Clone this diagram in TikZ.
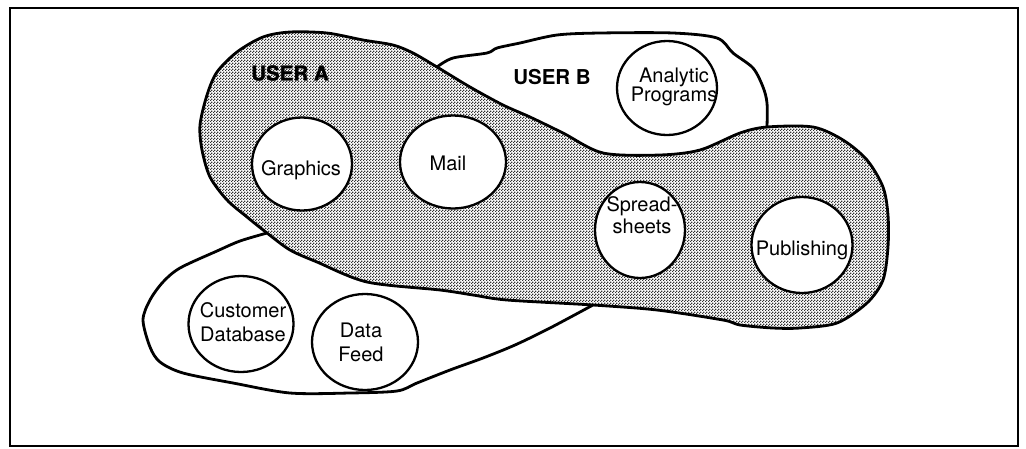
\documentclass[tikz,border=0pt]{standalone}
\usepackage{fontspec}
\setmainfont{TeX Gyre Heros}
\newfontfamily\heavyfont{TeX Gyre Heros}[BoldFeatures={FakeBold=1.5}]
\usetikzlibrary{shapes.geometric,patterns.meta}

% fine halftone used for the shaded user region
\pgfdeclarepattern{
  name=halftone,
  type=uncolored,
  bottom left={\pgfpoint{0pt}{0pt}},
  top right={\pgfpoint{3pt}{3pt}},
  tile size={\pgfpoint{3pt}{3pt}},
  code={
    \pgfpathrectangle{\pgfpoint{0pt}{0pt}}{\pgfpoint{1.5pt}{1.5pt}}
    \pgfpathrectangle{\pgfpoint{1.5pt}{1.5pt}}{\pgfpoint{1.5pt}{1.5pt}}
    \pgfusepath{fill}
  }
}

\tikzset{
  blob/.style={line width=2.8pt, line join=round, line cap=round},
  app/.style={ellipse, draw, fill=white, line width=2.3pt, inner sep=0pt},
  txt/.style={font=\fontsize{20}{22}\selectfont, align=center, inner sep=0pt},
  usr/.style={font=\fontsize{20.5}{22}\selectfont\bfseries, inner sep=0pt},
}

\begin{document}
\begin{tikzpicture}[x=1pt,y=-1pt]
\useasboundingbox (0,0) rectangle (1026,448);

% outer frame
\draw[line width=1.4pt] (10,8) rectangle (1018,446);

% user B region (outer edge only, the rest is hidden by user A)
\draw[blob] plot[smooth, tension=0.5] coordinates {
  (437,67) (453,58) (487,53) (497,48) (520,43) (557,35) (600,33)
  (673,33) (717,38) (733,53) (753,68) (763,87) (767,103) (767,127)};

% customer data region (outer edge only)
\draw[blob] plot[smooth, tension=0.5] coordinates {
  (267,233) (240,241) (217,251) (180,268) (163,282) (150,300) (143,320)
  (150,347) (160,362) (183,373) (233,383) (290,393) (350,393) (397,391)
  (417,383) (450,370) (483,358) (515,345) (550,328) (593,305)};

% user A region, shaded
\def\useraoutline{
  (202,150) (200,125) (207,95) (217,72) (237,52) (263,37) (290,32)
  (327,33) (363,40) (393,45) (413,53) (437,67) (470,87) (503,105)
  (530,117) (563,133) (603,153) (660,155) (700,150) (740,133) (767,127)
  (813,127) (843,140) (867,160) (883,187) (888,215) (888,247) (883,280)
  (867,303) (837,323) (800,328) (773,328) (740,325) (723,320) (657,310)
  (593,305) (507,300) (473,295) (440,290) (367,282) (317,262) (290,250)
  (267,233) (247,217) (227,200) (210,177)}
\fill[white] plot[smooth cycle, tension=0.5] coordinates {\useraoutline};
\draw[blob, pattern={halftone}, pattern color=black!80]
  plot[smooth cycle, tension=0.5] coordinates {\useraoutline};

% region titles
\node[usr, font=\fontsize{20.5}{22}\selectfont\heavyfont\bfseries] (ua) at (290,73) {USER A};
\node[usr] (ub) at (552,77) {USER B};

% applications
\node[app, minimum width=100pt, minimum height=93pt] (gra) at (302,164) {};
\node[app, minimum width=106pt, minimum height=93pt] (mail) at (453,162) {};
\node[app, minimum width=90pt, minimum height=96pt] (spr) at (640,230) {};
\node[app, minimum width=101pt, minimum height=96pt] (pub) at (802,245) {};
\node[app, minimum width=100pt, minimum height=94pt] (ana) at (667,88) {};
\node[app, minimum width=105pt, minimum height=96pt] (cdb) at (241,324) {};
\node[app, minimum width=106pt, minimum height=96pt] (dfd) at (365,342) {};

% application names
\node[txt, anchor=base] (grat) at (301,175) {Graphics};
\node[txt, anchor=base] (mailt) at (448,170) {Mail};
\node[txt, anchor=base] (pubt) at (802,255) {Publishing};
\node[txt, font=\fontsize{20}{22}\selectfont] (sprt) at (642,215) {Spread-\\sheets};
\node[txt, font=\fontsize{20}{19}\selectfont] (anat) at (674,87) {Analytic\\Programs};
\node[txt, font=\fontsize{20}{24}\selectfont] (cdbt) at (243,322) {Customer\\Database};
\node[txt, font=\fontsize{20}{24}\selectfont] (dfdt) at (361,342) {Data\\Feed};
\end{tikzpicture}
\end{document}
